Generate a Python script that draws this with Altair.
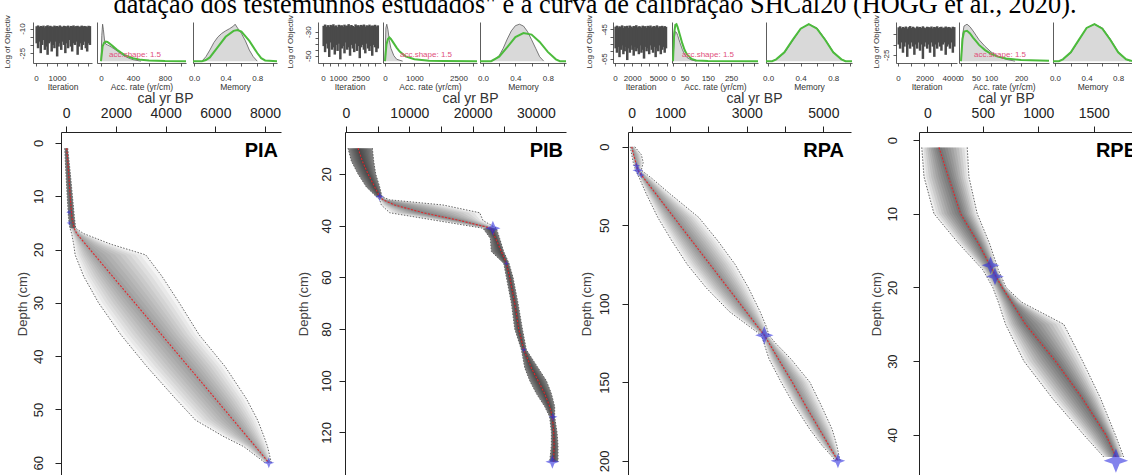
import altair as alt
import pandas as pd

FONT = "Liberation Sans"
SERIF = "Liberation Serif"

CAPTION = 'datação dos testemunhos estudados" e a curva de calibração SHCal20 (HOGG et al., 2020).'
NAMES = ["PIA", "PIB", "RPA", "RPE"]

# ---------------- MCMC traces (binned upper / lower log-objective) ----------------
ITERATIONS = {"PIA": 2600, "PIB": 3700, "RPA": 6000, "RPE": 4300}

PIA_TRACE_HI = [-8.6,-8.1,-9.0,-8.4,-8.8,-8.2,-9.3,-8.5,-8.0,-8.9,-8.3,-8.7,-9.1,-8.2,-8.6,-8.4,-8.9,-8.1,-8.7,-9.0,
                -8.3,-8.5,-8.8,-8.2,-9.2,-8.4,-8.6,-8.1,-8.9,-8.5,-8.3,-9.0,-8.7,-8.2,-8.8,-8.4,-8.6,-9.1,-8.3,-8.5]
PIA_TRACE_LO = [-19,-22,-18,-25,-20,-17,-23,-21,-26,-19,-18,-24,-20,-22,-18,-27,-21,-19,-23,-18,
                -20,-25,-19,-22,-17,-21,-24,-19,-20,-18,-26,-21,-19,-23,-20,-18,-22,-24,-19,-20]
PIB_TRACE_HI = [-25.2,-24.1,-25.8,-24.6,-26.0,-24.4,-25.1,-23.9,-25.5,-24.8,-26.2,-24.3,-25.0,-24.7,-25.9,-24.2,-25.4,-24.9,-23.8,-25.6,
                -24.5,-25.3,-26.1,-24.0,-25.2,-24.6,-25.7,-24.4,-25.0,-24.1,-25.8,-24.7,-25.3,-24.2,-25.5,-24.9,-25.1,-24.3,-25.6,-24.8]
PIB_TRACE_LO = [-42,-47,-40,-44,-51,-39,-45,-43,-49,-41,-46,-40,-53,-44,-42,-48,-39,-45,-43,-50,
                -41,-44,-47,-40,-46,-42,-52,-43,-41,-45,-48,-40,-44,-46,-42,-50,-41,-43,-47,-44]
RPA_TRACE_HI = [-43.2,-42.5,-43.8,-42.9,-43.4,-42.3,-44.0,-42.8,-43.5,-42.6,-43.9,-42.4,-43.1,-43.7,-42.7,-43.3,-42.2,-43.6,-42.9,-43.0,
                -43.8,-42.5,-43.4,-42.8,-43.9,-42.6,-43.2,-42.4,-43.7,-43.0,-42.7,-43.5,-42.3,-43.8,-42.9,-43.1,-42.6,-43.6,-42.8,-43.3]
RPA_TRACE_LO = [-58,-61,-57,-64,-59,-56,-62,-60,-57,-66,-58,-61,-56,-59,-63,-57,-60,-58,-62,-56,
                -61,-59,-65,-57,-60,-58,-62,-56,-59,-61,-57,-64,-58,-60,-56,-62,-59,-57,-61,-58]
RPE_TRACE_HI = [-11.6,-11.1,-12.0,-11.4,-11.8,-11.2,-12.2,-11.5,-11.0,-11.9,-11.3,-11.7,-12.1,-11.2,-11.6,-11.4,-11.9,-11.1,-11.7,-12.0,
                -11.3,-11.5,-11.8,-11.2,-12.1,-11.4,-11.6,-11.1,-11.9,-11.5,-11.3,-12.0,-11.7,-11.2,-11.8,-11.4,-11.6,-12.1,-11.3,-11.5]
RPE_TRACE_LO = [-20,-22,-19,-24,-21,-19,-26,-20,-22,-19,-21,-25,-20,-22,-19,-23,-20,-27,-21,-19,
                -22,-20,-24,-19,-21,-26,-20,-22,-19,-21,-23,-20,-19,-25,-21,-20,-22,-19,-24,-21]

# ---------------- accumulation rate: posterior histogram + prior ----------------
PIA_ACC_HIST_X = [0, 10, 20, 30, 45, 60, 80, 100, 130, 160, 200, 250, 300, 350, 400, 450, 500]
PIA_ACC_HIST_Y = [0, 0.7, 1.0, 0.85, 0.55, 0.46, 0.44, 0.42, 0.38, 0.34, 0.28, 0.2, 0.13, 0.08, 0.04, 0.02, 0]
PIA_ACC_PRIOR_X = [0, 20, 40, 60, 80, 100, 150, 200, 250, 300, 400, 500, 600, 800, 1062]
PIA_ACC_PRIOR_Y = [0, 0.40, 0.50, 0.53, 0.52, 0.49, 0.40, 0.31, 0.23, 0.16, 0.08, 0.035, 0.015, 0.003, 0]
PIB_ACC_HIST_X = [0, 30, 60, 100, 150, 200, 300, 400, 600]
PIB_ACC_HIST_Y = [0, 0.9, 1.0, 0.85, 0.55, 0.35, 0.15, 0.05, 0]
PIB_ACC_PRIOR_X = [0, 50, 100, 150, 200, 300, 400, 500, 700, 1000, 1500, 2000, 3129]
PIB_ACC_PRIOR_Y = [0, 0.45, 0.6, 0.64, 0.6, 0.48, 0.36, 0.26, 0.13, 0.05, 0.012, 0.003, 0]
RPA_ACC_HIST_X = [0, 5, 10, 15, 20, 30, 40, 50, 60, 80, 100]
RPA_ACC_HIST_Y = [0, 0.6, 0.8, 0.78, 0.7, 0.5, 0.32, 0.18, 0.1, 0.03, 0]
RPA_ACC_PRIOR_X = [0, 5, 10, 15, 20, 30, 40, 50, 60, 80, 100, 150, 366]
RPA_ACC_PRIOR_Y = [0, 0.75, 0.98, 1.0, 0.92, 0.7, 0.48, 0.3, 0.18, 0.06, 0.02, 0.003, 0]
RPE_ACC_HIST_X = [0, 5, 10, 20, 30, 40, 50, 60, 80, 100, 120, 150, 180]
RPE_ACC_HIST_Y = [0, 0.7, 0.95, 1.0, 0.93, 0.82, 0.7, 0.58, 0.4, 0.25, 0.14, 0.05, 0]
RPE_ACC_PRIOR_X = [0, 5, 10, 20, 30, 40, 50, 60, 80, 100, 120, 150, 200, 293]
RPE_ACC_PRIOR_Y = [0, 0.6, 0.8, 0.82, 0.75, 0.64, 0.54, 0.44, 0.3, 0.2, 0.13, 0.07, 0.03, 0.01]

# ---------------- memory: posterior histogram + prior ----------------
PIA_MEM_HIST_X = [0.10, 0.15, 0.2, 0.25, 0.3, 0.35, 0.4, 0.45, 0.5, 0.52, 0.55, 0.6, 0.65, 0.7, 0.75, 0.8]
PIA_MEM_HIST_Y = [0, 0.12, 0.3, 0.5, 0.65, 0.75, 0.82, 0.88, 0.95, 1.0, 0.9, 0.75, 0.55, 0.3, 0.12, 0]
PIA_MEM_PRIOR_X = [-0.013, 0.1, 0.15, 0.2, 0.3, 0.4, 0.5, 0.55, 0.6, 0.7, 0.8, 0.85, 0.9, 1.05]
PIA_MEM_PRIOR_Y = [0, 0, 0.03, 0.1, 0.38, 0.66, 0.82, 0.84, 0.8, 0.55, 0.22, 0.08, 0.02, 0]
PIB_MEM_HIST_X = [0.12, 0.2, 0.25, 0.3, 0.35, 0.4, 0.45, 0.5, 0.55, 0.6, 0.65, 0.7, 0.75]
PIB_MEM_HIST_Y = [0, 0.15, 0.35, 0.6, 0.82, 0.96, 1.0, 0.95, 0.8, 0.58, 0.35, 0.12, 0]
PIB_MEM_PRIOR_X = [-0.037, 0.1, 0.2, 0.3, 0.4, 0.5, 0.6, 0.7, 0.8, 0.9, 0.95, 1.025]
PIB_MEM_PRIOR_Y = [0, 0, 0.12, 0.38, 0.65, 0.76, 0.72, 0.52, 0.25, 0.05, 0, 0]
RPA_MEM_HIST_X = [0.05, 0.1, 0.2, 0.3, 0.4, 0.5, 0.6, 0.7, 0.8, 0.9, 0.95]
RPA_MEM_HIST_Y = [0, 0.05, 0.22, 0.55, 0.88, 1.0, 0.9, 0.6, 0.25, 0.05, 0]
RPA_MEM_PRIOR_X = [-0.025, 0.05, 0.1, 0.2, 0.3, 0.4, 0.5, 0.6, 0.7, 0.8, 0.9, 0.95, 1.03]
RPA_MEM_PRIOR_Y = [0, 0, 0.05, 0.24, 0.57, 0.88, 1.0, 0.88, 0.58, 0.24, 0.05, 0, 0]
RPE_MEM_HIST_X = [0.05, 0.1, 0.2, 0.3, 0.4, 0.5, 0.6, 0.7, 0.8, 0.9, 0.95]
RPE_MEM_HIST_Y = [0, 0.05, 0.22, 0.56, 0.9, 1.0, 0.9, 0.6, 0.25, 0.05, 0]
RPE_MEM_PRIOR_X = [-0.025, 0.05, 0.1, 0.2, 0.3, 0.4, 0.5, 0.6, 0.7, 0.8, 0.9, 0.975]
RPE_MEM_PRIOR_Y = [0, 0, 0.05, 0.24, 0.57, 0.9, 1.0, 0.88, 0.58, 0.24, 0.05, 0]

# ---------------- age-depth models (cal yr BP) ----------------
PIA_DEPTH = [1, 5, 10, 14, 16, 17, 19, 21, 25, 30, 36, 42, 48, 52, 55, 57, 60]
PIA_LO = [-60, -20, 40, 90, 150, 220, 300, 360, 700, 1300, 2200, 3250, 4400, 5200, 6300, 7150, 8000]
PIA_MED = [20, 90, 160, 230, 320, 420, 780, 1140, 1860, 2760, 3840, 4920, 6000, 6720, 7260, 7620, 8150]
PIA_HI = [60, 150, 250, 330, 380, 700, 1800, 3200, 3850, 4550, 5350, 6400, 7250, 7700, 7950, 8100, 8250]
PIA_DATE_DEPTH = [13, 15, 60]
PIA_DATE_AGE = [110, 120, 8150]
PIA_DATE_ERR = [110, 110, 220]

PIB_DEPTH = [10, 15, 20, 25, 28.8, 30, 32, 35, 38, 41, 45, 50, 54.6, 60, 70, 80, 88, 95, 100, 105, 110, 114, 120, 125, 131.4]
PIB_LO = [320, 840, 1900, 3210, 4790, 5320, 5580, 6900, 14270, 21640, 22800, 22960, 24910, 25330, 26120, 26650,
          27700, 28230, 29020, 30070, 31380, 32170, 32440, 32440, 32170]
PIB_MED = [1900, 2580, 3480, 4530, 5320, 5850, 7690, 12160, 17960, 22960, 23640, 24540, 25330, 25860, 26650, 27280,
           28070, 29280, 30330, 31380, 32170, 32600, 32810, 32860, 32810]
PIB_HI = [4160, 4370, 4690, 5320, 5690, 6900, 15320, 21120, 21640, 23750, 24280, 24910, 25750, 26380, 27170, 27860,
          28490, 30330, 31650, 32440, 32960, 32960, 33330, 33490, 33490]
PIB_DATE_DEPTH = [28.8, 41, 54.6, 88, 114, 131.4]
PIB_DATE_AGE = [5320, 23200, 25330, 28100, 32700, 32600]
PIB_DATE_ERR = [700, 1200, 450, 450, 700, 1100]

RPA_DEPTH = [0, 5, 10, 14.9, 20, 30, 45, 60, 75, 90, 105, 115, 120, 125, 135, 150, 165, 180, 190, 196, 200]
RPA_LO = [-40, 0, 40, 100, 200, 380, 680, 1050, 1450, 1950, 2550, 3100, 3380, 3450, 3580, 3900, 4250, 4650, 4960, 5180, 5320]
RPA_MED = [0, 50, 105, 157, 317, 631, 1102, 1573, 2044, 2515, 2986, 3300, 3461, 3581, 3821, 4190, 4541, 4901, 5141, 5285, 5380]
RPA_HI = [80, 250, 300, 250, 520, 1000, 1750, 2250, 2700, 3050, 3350, 3520, 3580, 3750, 4150, 4650, 4950, 5230, 5350, 5400, 5440]
RPA_DATE_DEPTH = [12, 15, 18, 120, 200]
RPA_DATE_AGE = [120, 160, 250, 3460, 5380]
RPA_DATE_ERR = [100, 140, 90, 240, 190]

RPE_DEPTH = [1, 5, 10, 14, 17.6, 20, 22, 25, 30, 35, 40, 43]
RPE_LO = [-50, -30, 60, 280, 500, 590, 640, 705, 870, 1125, 1410, 1590]
RPE_MED = [105, 190, 300, 460, 585, 675, 760, 885, 1155, 1395, 1610, 1700]
RPE_HI = [360, 375, 450, 560, 640, 710, 850, 1230, 1400, 1560, 1695, 1770]
RPE_DATE_DEPTH = [17, 18.5, 43.5]
RPE_DATE_AGE = [570, 610, 1700]
RPE_DATE_ERR = [80, 80, 110]

DATA = {
    "PIA": dict(th=PIA_TRACE_HI, tl=PIA_TRACE_LO, ahx=PIA_ACC_HIST_X, ahy=PIA_ACC_HIST_Y, apx=PIA_ACC_PRIOR_X, apy=PIA_ACC_PRIOR_Y,
                mhx=PIA_MEM_HIST_X, mhy=PIA_MEM_HIST_Y, mpx=PIA_MEM_PRIOR_X, mpy=PIA_MEM_PRIOR_Y,
                depth=PIA_DEPTH, lo=PIA_LO, med=PIA_MED, hi=PIA_HI, dd=PIA_DATE_DEPTH, da=PIA_DATE_AGE, de=PIA_DATE_ERR),
    "PIB": dict(th=PIB_TRACE_HI, tl=PIB_TRACE_LO, ahx=PIB_ACC_HIST_X, ahy=PIB_ACC_HIST_Y, apx=PIB_ACC_PRIOR_X, apy=PIB_ACC_PRIOR_Y,
                mhx=PIB_MEM_HIST_X, mhy=PIB_MEM_HIST_Y, mpx=PIB_MEM_PRIOR_X, mpy=PIB_MEM_PRIOR_Y,
                depth=PIB_DEPTH, lo=PIB_LO, med=PIB_MED, hi=PIB_HI, dd=PIB_DATE_DEPTH, da=PIB_DATE_AGE, de=PIB_DATE_ERR),
    "RPA": dict(th=RPA_TRACE_HI, tl=RPA_TRACE_LO, ahx=RPA_ACC_HIST_X, ahy=RPA_ACC_HIST_Y, apx=RPA_ACC_PRIOR_X, apy=RPA_ACC_PRIOR_Y,
                mhx=RPA_MEM_HIST_X, mhy=RPA_MEM_HIST_Y, mpx=RPA_MEM_PRIOR_X, mpy=RPA_MEM_PRIOR_Y,
                depth=RPA_DEPTH, lo=RPA_LO, med=RPA_MED, hi=RPA_HI, dd=RPA_DATE_DEPTH, da=RPA_DATE_AGE, de=RPA_DATE_ERR),
    "RPE": dict(th=RPE_TRACE_HI, tl=RPE_TRACE_LO, ahx=RPE_ACC_HIST_X, ahy=RPE_ACC_HIST_Y, apx=RPE_ACC_PRIOR_X, apy=RPE_ACC_PRIOR_Y,
                mhx=RPE_MEM_HIST_X, mhy=RPE_MEM_HIST_Y, mpx=RPE_MEM_PRIOR_X, mpy=RPE_MEM_PRIOR_Y,
                depth=RPE_DEPTH, lo=RPE_LO, med=RPE_MED, hi=RPE_HI, dd=RPE_DATE_DEPTH, da=RPE_DATE_AGE, de=RPE_DATE_ERR),
}

# ---------------- axes: ticks and labels ----------------
TRACE_XTICKS = {"PIA": [0, 500, 1000, 1500, 2000, 2500], "PIB": [0, 500, 1000, 1500, 2000, 2500, 3000, 3500],
                "RPA": [0, 1000, 2000, 3000, 4000, 5000, 6000], "RPE": [0, 1000, 2000, 3000, 4000]}
TRACE_XLABELS = {"PIA": [0, 1000], "PIB": [0, 1000, 2500], "RPA": [0, 2000, 5000], "RPE": [0, 2000, 4000]}
TRACE_YTICKS = {"PIA": [-10, -15, -20, -25], "PIB": [-30, -35, -40, -45, -50], "RPA": [-45, -50, -55, -60, -65], "RPE": [-15, -20, -25]}
TRACE_YLABELS = {"PIA": [-10, -25], "PIB": [-30, -50], "RPA": [-45, -65], "RPE": [-25]}
ACC_XTICKS = {"PIA": [0, 200, 400, 600, 800, 1000], "PIB": [0, 500, 1000, 1500, 2000, 2500, 3000],
              "RPA": [0, 50, 100, 150, 200, 250, 300, 350], "RPE": [0, 50, 100, 150, 200, 250]}
ACC_XLABELS = {"PIA": [0, 400, 800], "PIB": [0, 1000, 2500], "RPA": [0, 50, 150, 250], "RPE": [0, 50, 100, 200]}
MEM_XTICKS = {"PIA": [0, 0.2, 0.4, 0.6, 0.8, 1.0], "PIB": [0, 0.2, 0.4, 0.6, 0.8, 1.0],
              "RPA": [0, 0.2, 0.4, 0.6, 0.8, 1.0], "RPE": [0, 0.2, 0.4, 0.6, 0.8]}
MEM_XLABELS = [0.0, 0.4, 0.8]
MAIN_XTICKS = {"PIA": [0, 2000, 4000, 6000, 8000], "PIB": [0, 5000, 10000, 15000, 20000, 25000, 30000],
               "RPA": [0, 1000, 2000, 3000, 4000, 5000], "RPE": [0, 500, 1000, 1500]}
MAIN_XLABELS = {"PIA": [0, 2000, 4000, 6000, 8000], "PIB": [0, 10000, 20000, 30000],
                "RPA": [0, 1000, 3000, 5000], "RPE": [0, 500, 1000, 1500]}
MAIN_YTICKS = {"PIA": [0, 10, 20, 30, 40, 50, 60], "PIB": [20, 40, 60, 80, 100, 120],
               "RPA": [0, 50, 100, 150, 200], "RPE": [0, 10, 20, 30, 40]}

# ---------------- layout (pixels) and scale windows ----------------
W, H = 1132, 475
SMALL_TOP, SMALL_BOT = 22, 63
MAIN_TOP, MAIN_BOT = 132, 475
SMALL_X = {  # trace, acc rate, memory  (left, right)
    "PIA": ((33, 92), (97, 186), (193, 277)),
    "PIB": ((318, 381), (383, 477), (480, 566)),
    "RPA": ((613, 668), (672, 758), (766, 852)),
    "RPE": ((896, 957), (959, 1049), (1053, 1132)),
}
MAIN_X = {"PIA": (61, 281), "PIB": (345, 566), "RPA": (628, 851), "RPE": (919, 1132)}
TRACE_XDOM = {"PIA": [-143, 2667], "PIB": [-333, 3867], "RPA": [-230, 6160], "RPE": [-150, 4453]}
TRACE_YDOM = {"PIA": [-31, -6], "PIB": [-56, -22], "RPA": [-68, -40], "RPE": [-29, -9]}
TRACE_LABOFF = {"PIA": 11, "PIB": 10, "RPA": 9, "RPE": 10}
TRACE_TITLEX = {"PIA": -26, "PIB": -28, "RPA": -24, "RPE": -20}
ACC_XDOM = {"PIA": [-50, 1062], "PIB": [-68, 3129], "RPA": [-4.3, 366], "RPE": [-6.7, 293]}
MEM_XDOM = {"PIA": [-0.013, 1.05], "PIB": [-0.037, 1.025], "RPA": [-0.025, 1.03], "RPE": [-0.025, 0.975]}
NOTE_X = {"PIA": 135, "PIB": 426, "RPA": 708, "RPE": 1000}
MAIN_XDOM = {"PIA": [-210, 8640], "PIB": [-160, 34750], "RPA": [-97, 5721], "RPE": [-75, 1845]}
MAIN_YDOM = {"PIA": [-2.06, 62.3], "PIB": [3.75, 136.5], "RPA": [-9.4, 209], "RPE": [-1.09, 45.45]}
MAIN_LABOFF = {"PIA": 23, "PIB": 19, "RPA": 24, "RPE": 27}
MAIN_TITLEX = {"PIA": -39, "PIB": -42, "RPA": -42, "RPE": -43}
CAL_X = {"PIA": 165, "PIB": 470, "RPA": 754, "RPE": 1006}
NAME_X = {"PIA": 278, "PIB": 563, "RPA": 844, "RPE": 1137}
SHADE = {"PIA": 0.042, "PIB": 0.06, "RPA": 0.05, "RPE": 0.07}
DARK = {"PIA": [(0, 16)], "PIB": [(0, 28.8), (41, 200)], "RPA": [], "RPE": []}
FRACS = [1.0, 0.9, 0.8, 0.7, 0.6, 0.5, 0.4, 0.3, 0.2, 0.1]
STAR = "M-1,0L-0.3,-0.25L0,-1L0.3,-0.25L1,0L0.3,0.25L0,1L-0.3,0.25Z"

DUMMY = pd.DataFrame({"v": [0]})


def label_expr(labels, decimals=None):
    arr = "[" + ",".join(repr(v) for v in labels) + "]"
    lab = f"format(datum.value, '.{decimals}f')" if decimals is not None else "'' + datum.value"
    return f"indexof({arr}, datum.value) >= 0 ? {lab} : ''"


def small_xaxis(values, labels, title, decimals=None):
    return alt.Axis(orient="bottom", offset=-(H - SMALL_BOT), values=values,
                    labelExpr=label_expr(labels, decimals), title=title,
                    grid=False, domainColor="#333", domainWidth=0.8, tickColor="#333", tickWidth=0.8, tickSize=3,
                    labelFont=FONT, labelFontSize=8, labelColor="#333", labelBaseline="middle", labelPadding=12,
                    labelOverlap=False, labelFlush=False, labelAlign="center",
                    titleFont=FONT, titleFontSize=8.5, titleFontWeight="normal", titleColor="#333",
                    titleY=23, titleBaseline="middle")


def plain_left(x0):
    return alt.Axis(orient="left", offset=-x0, ticks=False, labels=False, title=None, grid=False,
                    domainColor="#333", domainWidth=0.8)


def trace_chart(n):
    d = DATA[n]
    (x0, x1) = SMALL_X[n][0]
    df = pd.DataFrame({"hi": d["th"], "lo": d["tl"]})
    step = ITERATIONS[n] / len(d["th"])
    xs = alt.Scale(domain=TRACE_XDOM[n], range=[x0, x1], nice=False, zero=False)
    ys = alt.Scale(domain=TRACE_YDOM[n], range=[SMALL_BOT, SMALL_TOP], nice=False, zero=False)
    ya = alt.Axis(orient="left", offset=-x0, values=TRACE_YTICKS[n], labelExpr=label_expr(TRACE_YLABELS[n]),
                  labelAngle=270, labelAlign="center", labelBaseline="middle", tickSize=3,
                  labelPadding=TRACE_LABOFF[n] - 3, labelFont=FONT, labelFontSize=8, labelColor="#333",
                  labelOverlap=False, labelFlush=False, grid=False, domainColor="#333", domainWidth=0.8,
                  tickColor="#333", tickWidth=0.8, title="Log of Objectiv", titleFont=FONT, titleFontSize=8,
                  titleFontWeight="normal", titleColor="#333", titleAngle=270, titleAlign="left",
                  titleBaseline="middle", titleX=TRACE_TITLEX[n], titleY=SMALL_BOT + 5)
    return alt.Chart(df).transform_window(idx="row_number()").transform_calculate(
        it=f"(datum.idx - 0.5) * {step}").mark_rule(color="#4a4a4a", strokeWidth=2.5).encode(
        x=alt.X("it:Q", scale=xs, axis=small_xaxis(TRACE_XTICKS[n], TRACE_XLABELS[n], "Iteration")),
        y=alt.Y("lo:Q", scale=ys, axis=ya), y2="hi:Q")


def hist_chart(hx, hy, px, py, xdom, xr, xa, note_x=None):
    xs = alt.Scale(domain=xdom, range=list(xr), nice=False, zero=False)
    ys = alt.Scale(domain=[-0.05, 1.06], range=[SMALL_BOT, SMALL_TOP], nice=False, zero=False)
    ya = plain_left(xr[0])
    hdf = pd.DataFrame({"x": hx, "y": hy})
    pdf = pd.DataFrame({"x": px, "y": py})
    area = alt.Chart(hdf).mark_area(orient="vertical", color="#c9c9c9",
                                    line=alt.OverlayMarkDef(color="#5a5a5a", strokeWidth=0.8)).encode(
        x=alt.X("x:Q", scale=xs, axis=xa), y=alt.Y("y:Q", scale=ys, axis=ya), y2=alt.datum(0))
    prior = alt.Chart(pdf).mark_line(color="#4cbb3c", strokeWidth=2).encode(
        x=alt.X("x:Q", scale=xs, axis=xa), y=alt.Y("y:Q", scale=ys, axis=ya), order="x:Q")
    layers = [area, prior]
    if note_x is not None:
        layers.append(alt.Chart(DUMMY).mark_text(text="acc.shape: 1.5", color="#e0507a", font=FONT, fontSize=8,
                                                 align="center", baseline="middle").encode(
            x=alt.value(note_x), y=alt.value(SMALL_TOP + 33)))
    return alt.layer(*layers)


def main_chart(n):
    d = DATA[n]
    x0, x1 = MAIN_X[n]
    xdom = MAIN_XDOM[n]
    op = SHADE[n]
    df = pd.DataFrame({"depth": d["depth"], "lo": d["lo"], "med": d["med"], "hi": d["hi"]})
    ddf = pd.DataFrame({"depth": d["dd"], "age": d["da"], "err": d["de"]})
    xs = alt.Scale(domain=xdom, range=[x0, x1], nice=False, zero=False)
    ys = alt.Scale(domain=MAIN_YDOM[n], range=[MAIN_TOP, MAIN_BOT], nice=False, zero=False)
    xa = alt.Axis(orient="top", offset=-MAIN_TOP, values=MAIN_XTICKS[n], labelExpr=label_expr(MAIN_XLABELS[n]),
                  grid=False, tickSize=6, tickColor="#222", domainColor="#222", labelFont=FONT, labelFontSize=14,
                  labelColor="#222", labelBaseline="middle", labelPadding=13, labelOverlap=False, labelFlush=False,
                  title="cal yr BP", titleFont=FONT, titleFontSize=14, titleFontWeight="normal", titleColor="#333",
                  titleX=CAL_X[n], titleY=-34, titleBaseline="middle", titleAlign="center")
    ya = alt.Axis(orient="left", offset=-x0, values=MAIN_YTICKS[n], format="d", labelAngle=270, labelAlign="center",
                  labelBaseline="middle", tickSize=6, labelPadding=MAIN_LABOFF[n] - 6, labelFont=FONT,
                  labelFontSize=13, labelColor="#222", tickColor="#222", domainColor="#222", labelOverlap=False,
                  labelFlush=False, grid=False, title="Depth (cm)", titleFont=FONT, titleFontSize=13,
                  titleFontWeight="normal", titleColor="#444", titleAngle=270, titleAlign="center",
                  titleBaseline="middle", titleX=MAIN_TITLEX[n])
    Y = alt.Y("depth:Q", scale=ys, axis=ya)
    layers = []
    for f in FRACS:
        layers.append(alt.Chart(df).transform_calculate(
            a=f"datum.med - (datum.med - datum.lo) * {f}", b=f"datum.med + (datum.hi - datum.med) * {f}"
        ).mark_area(orient="horizontal", color="black", opacity=op).encode(
            y=Y, x=alt.X("a:Q", scale=xs, axis=xa), x2="b:Q"))
    for lo_d, hi_d in DARK[n]:
        layers.append(alt.Chart(df).transform_filter(
            f"datum.depth >= {lo_d} && datum.depth <= {hi_d}"
        ).mark_area(orient="horizontal", color="black", opacity=0.45).encode(
            y=Y, x=alt.X("lo:Q", scale=xs, axis=xa), x2="hi:Q"))
    for fld in ["lo", "hi"]:
        layers.append(alt.Chart(df).mark_line(color="#555", strokeWidth=0.9, strokeDash=[1.5, 1.5]).encode(
            y=Y, x=alt.X(f"{fld}:Q", scale=xs, axis=xa), order="depth:Q"))
    layers.append(alt.Chart(df).mark_line(color="#e3262b", strokeWidth=1.1, strokeDash=[2, 1.5]).encode(
        y=Y, x=alt.X("med:Q", scale=xs, axis=xa), order="depth:Q"))
    k = (x1 - x0) / (xdom[1] - xdom[0])
    layers.append(alt.Chart(ddf).transform_calculate(sz=f"pow(2 * datum.err * {k}, 2)").mark_point(
        shape=STAR, filled=True, color="#2f2fe0", opacity=0.6, strokeWidth=0).encode(
        y=Y, x=alt.X("age:Q", scale=xs, axis=xa), size=alt.Size("sz:Q", scale=None, legend=None)))
    layers.append(alt.Chart(DUMMY).mark_text(text=n, font=FONT, fontSize=20, fontWeight="bold", align="right",
                                             baseline="alphabetic", color="black", clip=True).encode(
        x=alt.value(NAME_X[n]), y=alt.value(MAIN_TOP + 25)))
    return alt.layer(*layers)


# ---------------- assemble ----------------
caption = alt.Chart(DUMMY).mark_text(text=CAPTION, font=SERIF, fontSize=26.3, align="center",
                                     baseline="alphabetic", color="black", clip=True).encode(
    x=alt.value(595), y=alt.value(13))

parts = [caption]
for n in NAMES:
    d = DATA[n]
    parts.append(trace_chart(n))
    parts.append(hist_chart(d["ahx"], d["ahy"], d["apx"], d["apy"], ACC_XDOM[n], SMALL_X[n][1],
                            small_xaxis(ACC_XTICKS[n], ACC_XLABELS[n], "Acc. rate (yr/cm)"), NOTE_X[n]))
    parts.append(hist_chart(d["mhx"], d["mhy"], d["mpx"], d["mpy"], MEM_XDOM[n], SMALL_X[n][2],
                            small_xaxis(MEM_XTICKS[n], MEM_XLABELS, "Memory", 1)))
    parts.append(main_chart(n))

chart = alt.layer(*parts).resolve_scale(x="independent", y="independent").resolve_axis(
    x="independent", y="independent").properties(
    width=W, height=H, padding=0, autosize=alt.AutoSizeParams(type="none")).configure_view(strokeWidth=0)

chart.save("out.html", embed_options={"renderer": "svg", "actions": False})
